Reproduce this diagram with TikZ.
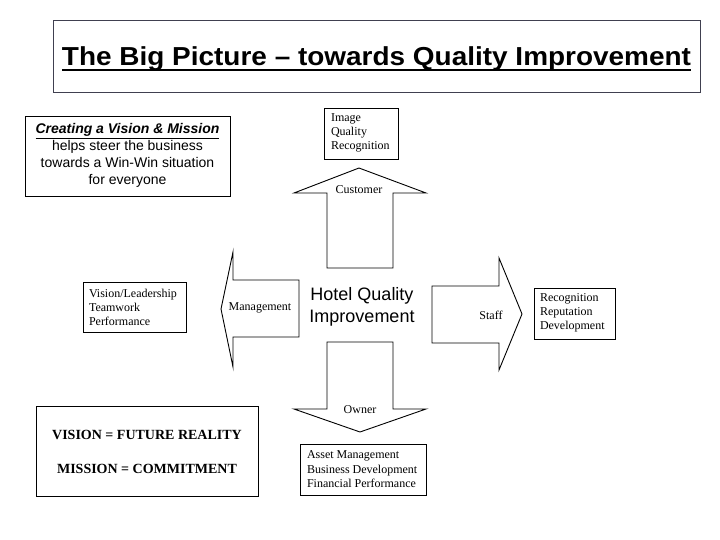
\documentclass[tikz,border=0pt]{standalone}
\usepackage{graphicx}
\usepackage{fontspec}
\setmainfont{Liberation Serif}
\newfontfamily\arialfont{Liberation Sans}
\begin{document}
\begin{tikzpicture}[x=1pt,y=-1pt,
  every node/.style={inner sep=0pt,outer sep=0pt},
  boxline/.style={draw=black,line width=0.9pt},
  arrowshape/.style={draw=black,line width=0.9pt,line join=miter},
  tnr/.style={font=\fontsize{12}{14}\selectfont},
]
\useasboundingbox (0,0) rectangle (720,540);
\fill[white] (0,0) rectangle (720,540);

% title
\draw[draw={rgb,255:red,64;green,64;blue,80},line width=0.9pt] (53,20) rectangle (700,92);
\node (title) [anchor=base] at (376.5,66) {\scalebox{1.075}[1]{\arialfont\bfseries\fontsize{26}{30}\selectfont The Big Picture – towards Quality Improvement}};
\coordinate (ulA) at (62,70);
\coordinate (ulB) at (691,70);
\draw[line width=2pt] (ulA) -- (ulB);

% creating box
\draw[boxline] (25,116) rectangle (230,196);
\node (creating) [align=center,font=\arialfont\fontsize{14}{17}\selectfont] at (127.5,155.5)
 {{\bfseries\itshape\underline{Creating a Vision \& Mission}}\\helps steer the business\\towards a Win-Win situation\\for everyone};

% small boxes
\draw[boxline] (83,282) rectangle (186,332);
\node (vision) [tnr,align=left,anchor=west] at (89,307) {Vision/Leadership\\Teamwork\\Performance};

\draw[boxline] (324,108) rectangle (398,159);
\node (image) [tnr,align=left,anchor=west] at (331,133) {Image\\Quality\\Recognition};

\draw[boxline] (534,288) rectangle (615,339);
\node (recog) [tnr,align=left,anchor=west] at (540,313) {Recognition\\Reputation\\Development};

\draw[boxline] (300,444) rectangle (426,495);
\node (asset) [align=left,anchor=west,font=\fontsize{12}{14.5}\selectfont] at (307,469.5) {Asset Management\\Business Development\\Financial Performance};

\draw[boxline] (36,406) rectangle (258,496);
\node (vm) [align=center,font=\bfseries\fontsize{14}{34}\selectfont] at (147,452) {VISION = FUTURE REALITY\\MISSION = COMMITMENT};

% arrows
\draw[arrowshape] (359,168) -- (426,193) -- (393,193) -- (393,268) -- (327,268) -- (327,193) -- (294,193) -- cycle;
\draw[arrowshape] (221,309) -- (233,252) -- (233,280) -- (299,280) -- (299,337) -- (233,337) -- (233,367) -- cycle;
\draw[arrowshape] (522,314) -- (499,258) -- (499,286) -- (432,286) -- (432,343) -- (499,343) -- (499,370) -- cycle;
\draw[arrowshape] (360,432) -- (426,409) -- (393,409) -- (393,342) -- (327,342) -- (327,409) -- (294,409) -- cycle;

\node (customer) [tnr] at (359,190) {Customer};
\node (management) [tnr] at (260,308) {Management};
\node (staff) [tnr] at (491,315) {Staff};
\node (owner) [tnr] at (360,410) {Owner};

\node (hotel) [align=center,font=\arialfont\fontsize{18}{22}\selectfont] at (362,307) {Hotel Quality\\Improvement};
\end{tikzpicture}
\end{document}
